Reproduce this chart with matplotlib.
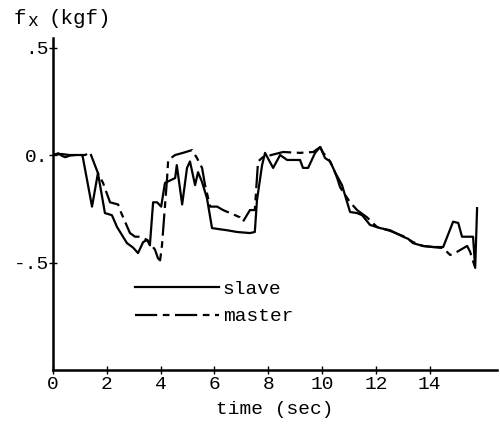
import matplotlib
matplotlib.use("Agg")
import matplotlib.pyplot as plt

# ---- data ----
slave_t = [0.0, 0.2, 0.35, 0.45, 0.65, 0.85, 1.05, 1.1, 1.45, 1.67, 1.93, 2.19, 2.38, 2.75,
           2.97, 3.16, 3.35, 3.5, 3.6, 3.72, 3.87, 4.02, 4.16, 4.54, 4.6, 4.8, 4.98, 5.09,
           5.28, 5.39, 5.54, 5.72, 5.91, 6.47, 6.84, 7.32, 7.5, 7.58, 7.77, 7.88, 8.18,
           8.44, 8.7, 9.18, 9.29, 9.48, 9.74, 9.93, 10.11, 10.3, 10.48, 10.74, 11.04, 11.3,
           11.49, 11.78, 12.16, 12.53, 13.01, 13.2, 13.38, 13.75, 14.13, 14.5, 14.87,
           15.06, 15.2, 15.61, 15.69, 15.76]
slave_f = [0.0, 0.008, -0.005, -0.01, -0.002, 0.0, 0.0, -0.005, -0.24, -0.084, -0.27, -0.28,
           -0.335, -0.41, -0.43, -0.456, -0.405, -0.395, -0.42, -0.22, -0.22, -0.24, -0.13,
           -0.107, -0.047, -0.23, -0.06, -0.03, -0.14, -0.08, -0.126, -0.2, -0.34, -0.35,
           -0.358, -0.363, -0.358, -0.21, -0.047, 0.01, -0.06, 0.0, -0.023, -0.023, -0.06,
           -0.06, 0.01, 0.037, -0.014, -0.03, -0.08, -0.14, -0.265, -0.27, -0.28, -0.325,
           -0.34, -0.35, -0.38, -0.39, -0.41, -0.423, -0.428, -0.428, -0.31, -0.316, -0.38,
           -0.38, -0.525, -0.247]

master_t = [0.0, 0.3, 0.6, 0.9, 1.2, 1.37, 1.67, 1.86, 2.12, 2.42, 2.49, 2.86, 3.05, 3.23,
            3.5, 3.79, 3.9, 3.98, 4.05, 4.24, 4.28, 4.54, 4.83, 5.17, 5.35, 5.54, 5.65, 5.84,
            6.1, 6.32, 6.58, 6.77, 6.95, 7.06, 7.32, 7.5, 7.62, 7.8, 8.55, 9.18, 9.67, 9.93,
            10.04, 10.22, 10.4, 10.56, 10.67, 11.04, 11.3, 11.67, 12.04, 12.53, 13.01, 13.38,
            13.75, 14.13, 14.5, 14.76, 15.02, 15.39, 15.5, 15.69]
master_f = [0.0, 0.005, 0.0, 0.0, 0.0, 0.014, -0.084, -0.13, -0.22, -0.23, -0.256, -0.363,
            -0.38, -0.38, -0.395, -0.44, -0.48, -0.49, -0.42, -0.107, -0.023, 0.0, 0.01,
            0.023, -0.014, -0.06, -0.14, -0.24, -0.24, -0.256, -0.27, -0.28, -0.29, -0.31,
            -0.256, -0.256, -0.03, -0.01, 0.014, 0.01, 0.014, 0.037, 0.01, -0.014, -0.056,
            -0.107, -0.15, -0.22, -0.256, -0.29, -0.335, -0.353, -0.377, -0.405, -0.423,
            -0.428, -0.433, -0.465, -0.45, -0.423, -0.45, -0.525]

x_ticks = [0, 2, 4, 6, 8, 10, 12, 14]
y_ticks = [0.5, 0.0, -0.5]
y_tick_labels = [".5", "0.", "-.5"]
series_labels = ["slave", "master"]

FONT = "Liberation Mono"

fig = plt.figure(figsize=(5.0, 4.3), dpi=100)
ax = fig.add_axes([0.106, 0.1395, 0.888, 0.772])
ax.set_xlim(0, 16.5)
ax.set_ylim(-1.0, 0.544)

ax.plot(slave_t, slave_f, color="black", lw=1.6, ls="-", label=series_labels[0])
ax.plot(master_t, master_f, color="black", lw=1.6, ls=(0, (10, 2.5, 3, 2.5)),
        label=series_labels[1])

for s in ["top", "right"]:
    ax.spines[s].set_visible(False)
for s in ["left", "bottom"]:
    ax.spines[s].set_linewidth(1.8)

ax.set_xticks(x_ticks)
ax.set_xticklabels([str(v) for v in x_ticks], fontfamily=FONT, fontsize=14)
ax.set_yticks(y_ticks)
ax.set_yticklabels(y_tick_labels, fontfamily=FONT, fontsize=14)
ax.tick_params(direction="inout", length=6, width=1.0, pad=1)
ax.tick_params(axis="y", pad=0)

ax.set_xlabel("time (sec)", fontfamily=FONT, fontsize=14, labelpad=6)

fig.text(0.028, 0.945, "f", fontfamily=FONT, fontsize=15, va="baseline")
fig.text(0.054, 0.94, "x", fontfamily=FONT, fontsize=13, va="baseline")
fig.text(0.098, 0.945, "(kgf)", fontfamily=FONT, fontsize=15, va="baseline")

leg = ax.legend(loc="upper left", bbox_to_anchor=(0.168, 0.293), frameon=False,
                prop={"family": FONT, "size": 14}, handlelength=4.3,
                handletextpad=0.2, labelspacing=0.5, borderaxespad=0)

fig.savefig("out.png", dpi=100)
